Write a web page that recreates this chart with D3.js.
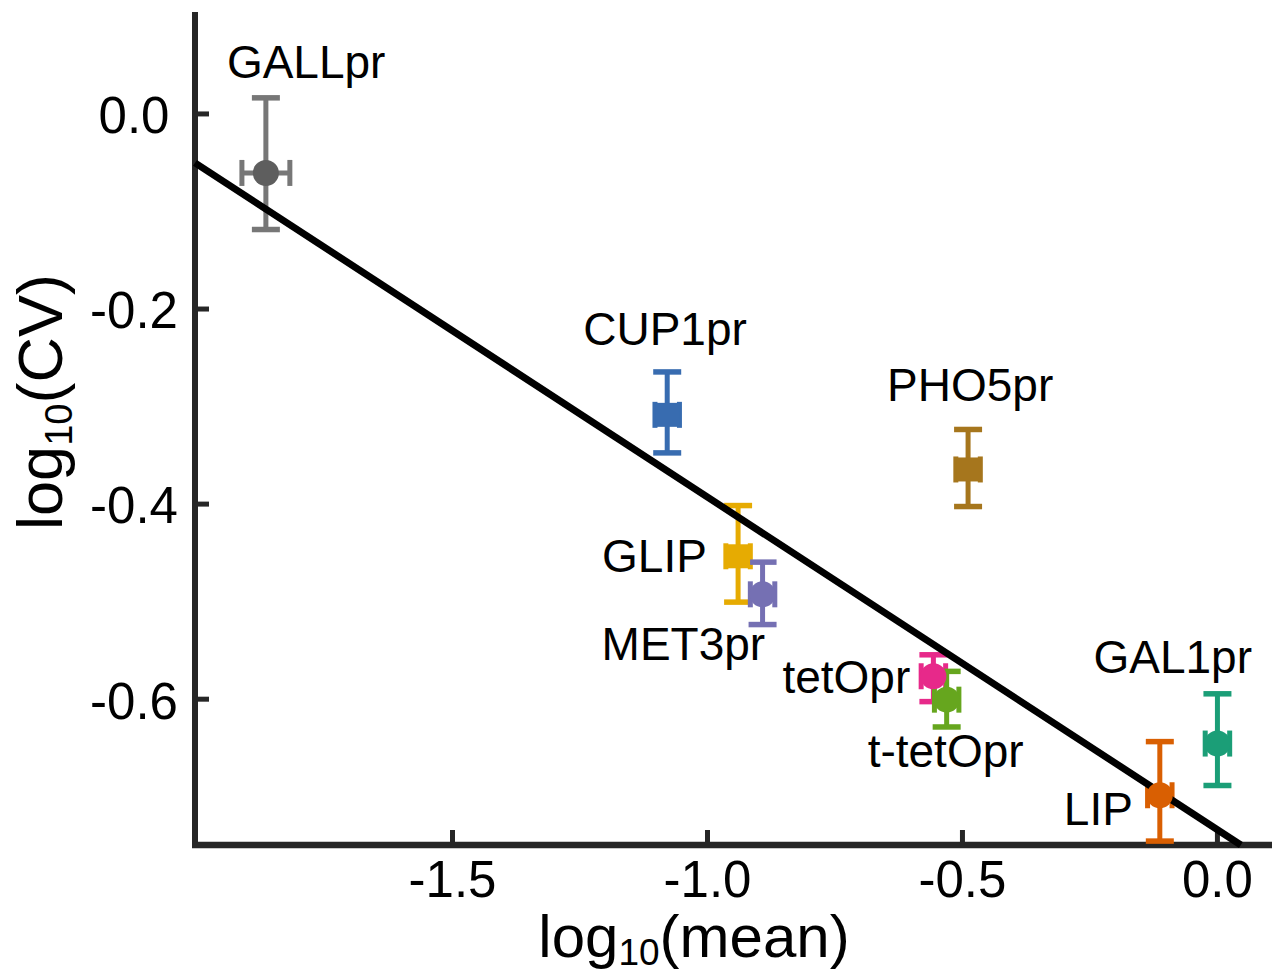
<!DOCTYPE html>
<html>
<head>
<meta charset="utf-8">
<script src="https://cdn.jsdelivr.net/npm/d3@7"></script>
<style>
  body { margin: 0; background: #fff; }
  text { font-family: "Liberation Sans", Arial, Helvetica, sans-serif; fill: #000; }
</style>
</head>
<body>
<div id="chart"></div>
<script>
// promoter names and values (log10 mean, log10 CV)
var names = ["GALLpr", "CUP1pr", "PHO5pr", "GLIP", "MET3pr", "tetOpr", "t-tetOpr", "LIP", "GAL1pr"]
var logMean = [-1.865, -1.078, -0.488, -0.939, -0.891, -0.556, -0.530, -0.112, 0.001]
var logMeanErr = [0.047, 0.024, 0.024, 0.024, 0.024, 0.024, 0.024, 0.024, 0.024]
var logCV = [-0.061, -0.309, -0.365, -0.454, -0.493, -0.577, -0.601, -0.699, -0.646]
var logCVUpper = [0.016, -0.265, -0.324, -0.402, -0.460, -0.555, -0.572, -0.644, -0.595]
var logCVLower = [-0.119, -0.348, -0.403, -0.501, -0.524, -0.603, -0.629, -0.746, -0.689]
var markers = ["circle", "square", "square", "square", "circle", "circle", "circle", "circle", "circle"]
var colors = ["#666666", "#386cb0", "#a6761d", "#e6ab02", "#7570b3", "#e7298a", "#66a61e", "#d95f02", "#1b9e77"]

// fitted line
var fitSlope = -0.341
var fitIntercept = -0.734

var xTicks = [-1.5, -1.0, -0.5, 0.0]
var yTicks = [0.0, -0.2, -0.4, -0.6]

// label offsets from the marker, in pixels
var labelDx = [-39, -84, -81, -136, -161, -151, -79, -96, -124]
var labelDy = [-95, -70, -68, 16, 66, 17, 67, 30, -71]

var width = 1272
height = 974

var svg = d3.select("#chart")
    .append("svg")
    .attr("width", width)
    .attr("height", height)

var x = d3.scaleLinear().domain([-2.004, 0.108]).range([195, 1272])
var y = d3.scaleLinear().domain([-0.75, 0.104]).range([845, 12])

var axisColor = "#262626"

// x axis, ticks pointing inward
var gx = svg.append("g")
    .attr("transform", "translate(0," + y(-0.75) + ")")
    .call(d3.axisBottom(x).tickValues(xTicks).tickFormat(d3.format(".1f"))
        .tickSizeInner(-15).tickSizeOuter(0).tickPadding(16))
gx.select(".domain").attr("stroke", axisColor).attr("stroke-width", 6.5)
    .attr("d", "M" + (x.range()[0] - 3) + ",0H" + x.range()[1])
gx.selectAll(".tick line").attr("stroke", axisColor).attr("stroke-width", 5)
gx.selectAll(".tick text").attr("font-size", 51).attr("fill", "#000")
    .text(function (d) { return d3.format(".1f")(d).replace("−", "-") })

// y axis
var gy = svg.append("g")
    .attr("transform", "translate(" + x(-2.004) + ",0)")
    .call(d3.axisLeft(y).tickValues(yTicks).tickSizeInner(-14).tickSizeOuter(0))
gy.select(".domain").attr("stroke", axisColor).attr("stroke-width", 6)
    .attr("d", "M0," + y.range()[1] + "V" + (y.range()[0] + 3))
gy.selectAll(".tick line").attr("stroke", axisColor).attr("stroke-width", 5)
gy.selectAll(".tick text").attr("font-size", 51).attr("fill", "#000")
    .attr("text-anchor", "middle").attr("x", -61).attr("dy", "0.38em")
    .text(function (d) { return d3.format(".1f")(d).replace("−", "-") })

// axis titles
var xt = svg.append("text")
    .attr("x", 694).attr("y", 957)
    .attr("text-anchor", "middle")
    .attr("font-size", 60)
xt.append("tspan").text("log")
xt.append("tspan").text("10").attr("font-size", 37).attr("dy", 8)
xt.append("tspan").text("(mean)").attr("dy", -8)

var yt = svg.append("text")
    .attr("transform", "translate(62,402) rotate(-90)")
    .attr("text-anchor", "middle")
    .attr("font-size", 63)
yt.append("tspan").text("log")
yt.append("tspan").text("10").attr("font-size", 38).attr("dy", 10)
yt.append("tspan").text("(CV)").attr("dy", -10)

var pts = names.map(function (n, i) {
    return {name: n, mx: logMean[i], mxe: logMeanErr[i], cv: logCV[i],
        hi: logCVUpper[i], lo: logCVLower[i], marker: markers[i], color: colors[i],
        dx: labelDx[i], dy: labelDy[i]}
})

var capW = 28
var bars = svg.append("g")
bars.selectAll("g")
    .data(pts)
    .enter()
    .append("g")
    .each(function (d) {
        var g = d3.select(this)
        var cx = x(d.mx), cy = y(d.cv)
        var bw = d.name == "GALLpr" ? "#777777" : d.color
        // vertical error bar
        g.append("line").attr("x1", cx).attr("x2", cx).attr("y1", y(d.hi)).attr("y2", y(d.lo))
            .attr("stroke", bw).attr("stroke-width", 5)
        g.append("line").attr("x1", cx - capW / 2).attr("x2", cx + capW / 2).attr("y1", y(d.hi)).attr("y2", y(d.hi))
            .attr("stroke", bw).attr("stroke-width", 5.5)
        g.append("line").attr("x1", cx - capW / 2).attr("x2", cx + capW / 2).attr("y1", y(d.lo)).attr("y2", y(d.lo))
            .attr("stroke", bw).attr("stroke-width", 5.5)
        // horizontal error bar
        var x0 = x(d.mx - d.mxe), x1 = x(d.mx + d.mxe)
        g.append("line").attr("x1", x0).attr("x2", x1).attr("y1", cy).attr("y2", cy)
            .attr("stroke", bw).attr("stroke-width", 5)
        g.append("line").attr("x1", x0).attr("x2", x0).attr("y1", cy - 13).attr("y2", cy + 13)
            .attr("stroke", bw).attr("stroke-width", 5)
        g.append("line").attr("x1", x1).attr("x2", x1).attr("y1", cy - 13).attr("y2", cy + 13)
            .attr("stroke", bw).attr("stroke-width", 5)
    })

// fitted line, clipped where it meets the x axis
var xEnd = (y.domain()[0] - fitIntercept) / fitSlope
svg.append("line")
    .attr("x1", x(x.domain()[0])).attr("y1", y(fitSlope * x.domain()[0] + fitIntercept))
    .attr("x2", x(xEnd)).attr("y2", y(fitSlope * xEnd + fitIntercept))
    .attr("stroke", "black").attr("stroke-width", 7)

// markers
svg.selectAll(".mark")
    .data(pts)
    .enter()
    .append("path")
    .attr("class", "mark")
    .attr("transform", function (d) { return "translate(" + x(d.mx) + "," + y(d.cv) + ")" })
    .attr("d", function (d) {
        return d3.symbol().type(d.marker == "square" ? d3.symbolSquare : d3.symbolCircle)
            .size(d.marker == "square" ? 24 * 24 : Math.PI * 13 * 13)()
    })
    .attr("fill", function (d) { return d.name == "GALLpr" ? "#5e5e5e" : d.color })

// labels
svg.selectAll(".lab")
    .data(pts)
    .enter()
    .append("text")
    .attr("class", "lab")
    .attr("x", function (d) { return x(d.mx) + d.dx })
    .attr("y", function (d) { return y(d.cv) + d.dy })
    .attr("font-size", 46)
    .text(function (d) { return d.name })
</script>
</body>
</html>
